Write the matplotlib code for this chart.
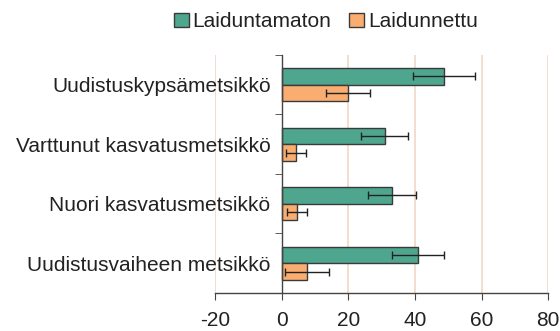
import numpy as np
import matplotlib.pyplot as plt

plt.rcParams['font.family'] = ['Liberation Sans', 'DejaVu Sans']

categories = ['Uudistuskypsämetsikkö', 'Varttunut kasvatusmetsikkö',
              'Nuori kasvatusmetsikkö', 'Uudistusvaiheen metsikkö']
laiduntamaton = [48.8, 30.9, 33.2, 40.8]
laiduntamaton_err = [9.3, 7.1, 7.2, 7.8]
laidunnettu = [19.9, 4.3, 4.5, 7.6]
laidunnettu_err = [6.7, 3.0, 3.0, 6.7]
xticks = [-20, 0, 20, 40, 60, 80]

green = '#4ea68f'
orange = '#f9ad70'
edge = '#3a3a3a'
gridc = '#f0d8c8'
fs = 15

fig = plt.figure(figsize=(5.6, 3.31), dpi=100)
ax = fig.add_axes([0.384, 0.115, 0.595, 0.719])

y = np.arange(len(categories))[::-1].astype(float)
h = 0.28

# vertical guide lines (the one at 0 is hidden under the spine)
for gx in xticks:
    if gx != 0:
        ax.axvline(gx, color=gridc, lw=1.2, zorder=0)

ax.barh(y + h / 2, laiduntamaton, height=h, color=green, edgecolor=edge,
        lw=1, label='Laiduntamaton', zorder=2)
ax.barh(y - h / 2, laidunnettu, height=h, color=orange, edgecolor=edge,
        lw=1, label='Laidunnettu', zorder=2)
ax.errorbar(laiduntamaton, y + h / 2, xerr=laiduntamaton_err, fmt='none',
            ecolor='#222222', elinewidth=1, capsize=3, capthick=1, zorder=3)
ax.errorbar(laidunnettu, y - h / 2, xerr=laidunnettu_err, fmt='none',
            ecolor='#222222', elinewidth=1, capsize=3, capthick=1, zorder=3)

ax.set_xlim(-20, 80)
ax.set_ylim(-0.5, 3.5)
ax.spines['left'].set_position(('data', 0))
ax.spines['top'].set_visible(False)
ax.spines['right'].set_visible(False)
for s in ('left', 'bottom'):
    ax.spines[s].set_color('#444444')
    ax.spines[s].set_linewidth(1)

ax.set_xticks(xticks)
ax.set_xticklabels([str(t) for t in xticks], fontsize=fs, color='#222222')
ax.set_yticks(y)
ax.set_yticklabels(categories, fontsize=fs, color='#222222')
ax.tick_params(axis='y', length=0, pad=8)
ax.set_yticks(np.arange(-0.5, 4, 1), minor=True)
ax.tick_params(axis='y', which='minor', length=5, color='#444444')
ax.tick_params(axis='x', length=5, color='#444444', pad=8)

leg = fig.legend(loc='center', bbox_to_anchor=(0.582, 0.934), ncol=2,
                 frameon=False, fontsize=fs, handlelength=0.7,
                 handleheight=0.7, handletextpad=0.2, columnspacing=0.85)
for t in leg.get_texts():
    t.set_color('#222222')

fig.savefig('out.png', dpi=100)
